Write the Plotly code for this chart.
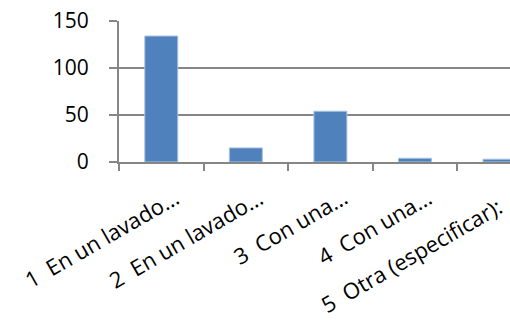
import plotly.graph_objects as go

categories = ["1\u00a0\u00a0En un lavado…", "2\u00a0\u00a0En un lavado…", "3\u00a0\u00a0Con una…",
              "4\u00a0\u00a0Con una…", "5\u00a0\u00a0Otra (especificar):"]
values = [134, 15, 54, 4, 3]
y_ticks = [0, 50, 100, 150]

fig = go.Figure(go.Bar(
    x=categories, y=values,
    marker=dict(color="#4F81BD", line=dict(color="#A9C1E0", width=1)),
))

# rotated category labels, placed on the category axis
LABEL_ANGLE = -30
BASE_XSHIFT, BASE_YSHIFT = 25, -17
annotations = []
for i, cat in enumerate(categories):
    xs, ys = BASE_XSHIFT, BASE_YSHIFT
    if i == len(categories) - 1:   # last label slides back so it stays inside the picture
        xs -= 15
        ys -= 9
    annotations.append(dict(
        x=cat, y=0, xref="x", yref="y", text=cat, showarrow=False,
        textangle=LABEL_ANGLE, xanchor="right", yanchor="top",
        xshift=xs, yshift=ys, font=dict(size=22, family="Open Sans", color="black"),
    ))

fig.update_layout(
    width=510, height=324,
    margin=dict(l=119, r=0, t=21, b=162, pad=0),
    paper_bgcolor="white", plot_bgcolor="white",
    showlegend=False,
    font=dict(family="Open Sans", size=18, color="black"),
    bargap=0.61,
    annotations=annotations,
)
fig.update_xaxes(
    type="category", range=[-0.5, 4.124], automargin=False,
    showticklabels=False,
    showline=True, linecolor="#868686", linewidth=2,
    ticks="outside", ticklen=7, tickcolor="#868686", tickwidth=2,
    tickson="boundaries", showgrid=False,
)
fig.update_yaxes(
    range=[0, 150], tickvals=y_ticks, automargin=False,
    showline=True, linecolor="#868686", linewidth=2,
    showgrid=True, gridcolor="#868686", gridwidth=2,
    ticks="outside", ticklen=8, tickcolor="#868686", tickwidth=2,
    tickfont=dict(size=21), ticklabelstandoff=16,
    zeroline=False,
)
fig.write_html(
    "out.html",
    config={"displayModeBar": False},
    post_script="document.body.style.margin='0';document.body.style.overflow='hidden';",
)
